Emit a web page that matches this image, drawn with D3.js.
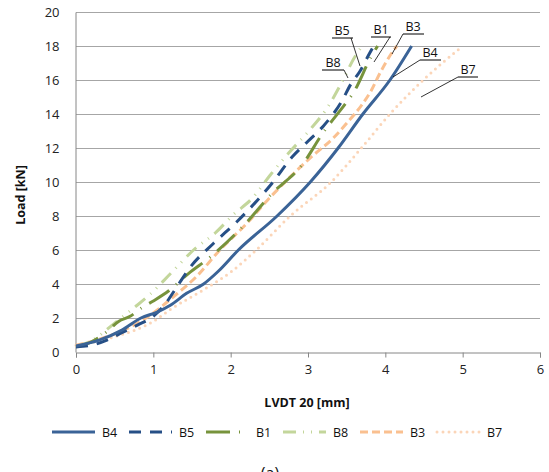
<!DOCTYPE html>
<html>
<head>
<meta charset="utf-8">
<script src="https://cdn.jsdelivr.net/npm/d3@7"></script>
<style>
  body { margin: 0; background: #fff; }
  svg { display: block; font-family: "Open Sans", "Liberation Sans", sans-serif; }
</style>
</head>
<body>
<svg id="chart" width="549" height="472"></svg>
<script>
// LVDT 20 displacement [mm] vs load [kN]
const seriesNames = ['B4', 'B5', 'B1', 'B8', 'B3', 'B7'];

const b4 = [[0,0.35],[0.3,0.7],[0.6,1.3],[0.84,2.0],[1.05,2.35],[1.22,2.75],[1.43,3.45],[1.65,4.0],[1.84,4.75],[2.1,6.0],[2.6,8.0],[3.03,10.0],[3.39,12.0],[3.71,14.0],[4.06,16.0],[4.34,18.0]];
const b5 = [[0,0.3],[0.2,0.4],[0.4,0.7],[0.6,1.15],[0.8,1.6],[1.0,2.1],[1.15,2.8],[1.3,3.8],[1.48,5.0],[1.78,6.4],[2.08,7.66],[2.38,9.1],[2.53,9.9],[2.8,11.5],[3.0,12.4],[3.2,13.3],[3.43,14.7],[3.56,15.8],[3.67,16.5],[3.8,17.6],[3.85,18.0]];
const b1 = [[0,0.3],[0.2,0.6],[0.4,1.2],[0.55,1.8],[0.7,2.1],[0.85,2.6],[1.0,3.0],[1.2,3.6],[1.45,4.6],[1.74,5.6],[2.14,7.3],[2.53,9.3],[2.94,11.1],[3.18,12.8],[3.5,14.7],[3.58,15.2],[3.82,17.4],[3.9,18.0]];
const b8 = [[0,0.3],[0.25,0.8],[0.5,1.7],[0.75,2.6],[0.96,3.4],[1.22,4.6],[1.52,6.0],[1.8,7.0],[2.04,8.1],[2.27,9.0],[2.51,10.4],[2.75,11.7],[3.03,13.1],[3.24,14.3],[3.43,15.8],[3.61,17.4],[3.7,18.0]];
const b3 = [[0,0.4],[0.3,0.75],[0.6,1.25],[0.8,1.7],[1.0,2.3],[1.26,3.25],[1.56,4.45],[1.86,6.0],[2.21,7.57],[2.47,8.9],[2.77,10.3],[3.05,11.5],[3.33,12.6],[3.5,13.45],[3.69,14.5],[3.82,15.4],[3.93,16.4],[4.1,17.7],[4.15,18.0]];
const b7 = [[0,0.4],[0.5,0.9],[1.0,1.8],[1.22,2.5],[1.7,3.8],[2.0,4.7],[2.33,6.0],[2.77,8.0],[3.3,10.0],[3.69,12.0],[4.06,14.0],[4.49,16.0],[5.0,18.0]];

const xTicks = [0, 1, 2, 3, 4, 5, 6];
const yTicks = [0, 2, 4, 6, 8, 10, 12, 14, 16, 18, 20];

const seriesData = [b4, b5, b1, b8, b3, b7];
const colors = ['#3A6397', '#264F86', '#77933C', '#C3D69B', '#FAC090', '#FBD5B8'];
const dashes = ['none', '12,9', '24,9,1,9', '13,7,1,7,1,7', '8,4', '0,6'];
const caps = ['butt', 'butt', 'butt', 'butt', 'butt', 'round'];

// label position, underline and leader end (px)
const labels = [
  {name:'B4', x:430, y:57, ux:[420,441], from:420, to:[393,77]},
  {name:'B5', x:342, y:35, ux:[332,353], from:351, to:[360,66]},
  {name:'B1', x:381, y:34, ux:[371,391], from:390, to:[374,62]},
  {name:'B8', x:333, y:67, ux:[322,344], from:344, to:[348,78]},
  {name:'B3', x:413, y:31, ux:[403,424], from:403, to:[392,54]},
  {name:'B7', x:468, y:74, ux:[458,478], from:458, to:[421,97]},
];

const svg = d3.select('#chart');
const margin = {left: 76, right: 540, top: 12, bottom: 352};

const x = d3.scaleLinear().domain([0, 6]).range([margin.left, margin.right]);
const y = d3.scaleLinear().domain([0, 20]).range([margin.bottom, margin.top]);

// gridlines
svg.append('g').selectAll('line').data(yTicks.filter(d => d > 0)).enter().append('line')
  .attr('x1', margin.left).attr('x2', margin.right)
  .attr('y1', d => y(d) + 0.5).attr('y2', d => y(d) + 0.5)
  .attr('stroke', '#A6A6A6').attr('stroke-width', 1);

// axes
const xAxis = svg.append('g').attr('transform', `translate(0,${margin.bottom + 0.5})`)
  .call(d3.axisBottom(x).tickValues(xTicks).tickFormat(d3.format('d')).tickSize(5).tickPadding(7));
const yAxis = svg.append('g').attr('transform', `translate(${margin.left - 0.5},0)`)
  .call(d3.axisLeft(y).tickValues(yTicks).tickFormat(d3.format('d')).tickSizeInner(0).tickSizeOuter(0).tickPadding(16));
[xAxis, yAxis].forEach(a => {
  a.select('.domain').attr('stroke', '#868686');
  a.selectAll('.tick line').attr('stroke', '#868686');
  a.selectAll('.tick text').attr('font-size', 13).attr('fill', '#222')
    .attr('font-family', '"Open Sans", sans-serif');
});

// axis titles
svg.append('text').attr('x', 307).attr('y', 407).attr('text-anchor', 'middle')
  .attr('font-size', 12.5).attr('font-weight', 'bold').attr('fill', '#111')
  .text('LVDT 20 [mm]');
svg.append('text').attr('transform', 'translate(25,195) rotate(-90)').attr('text-anchor', 'middle')
  .attr('font-size', 12.5).attr('font-weight', 'bold').attr('fill', '#111')
  .text('Load [kN]');

// series lines
const line = d3.line().x(d => x(d[0])).y(d => y(d[1])).curve(d3.curveMonotoneX);
const order = [5, 4, 3, 2, 1, 0];
svg.append('g').selectAll('path').data(order).enter().append('path')
  .attr('d', i => line(seriesData[i]))
  .attr('fill', 'none')
  .attr('stroke', i => colors[i])
  .attr('stroke-width', 3)
  .attr('stroke-dasharray', i => dashes[i])
  .attr('stroke-linecap', i => caps[i]);

// data labels with leaders
const lab = svg.append('g');
labels.forEach(l => {
  lab.append('line').attr('x1', l.ux[0]).attr('x2', l.ux[1]).attr('y1', l.y + 3).attr('y2', l.y + 3)
    .attr('stroke', '#000').attr('stroke-width', 1);
  lab.append('line').attr('x1', l.from).attr('y1', l.y + 3).attr('x2', l.to[0]).attr('y2', l.to[1])
    .attr('stroke', '#000').attr('stroke-width', 0.8);
  lab.append('text').attr('x', l.x).attr('y', l.y).attr('text-anchor', 'middle')
    .attr('font-size', 12.5).attr('fill', '#111').text(l.name);
});

// legend
const leg = svg.append('g').attr('transform', 'translate(52,432)');
seriesNames.forEach((n, i) => {
  const g = leg.append('g').attr('transform', `translate(${i * 77},0)`);
  g.append('line').attr('x1', 0).attr('x2', 43).attr('y1', 0).attr('y2', 0)
    .attr('stroke', colors[i]).attr('stroke-width', 3)
    .attr('stroke-dasharray', dashes[i]).attr('stroke-linecap', caps[i]);
  g.append('text').attr('x', 50).attr('y', 4.5).attr('font-size', 12.5).attr('fill', '#111').text(n);
});

// caption, cut by the bottom edge as in the source figure
svg.append('text').attr('x', 270).attr('y', 479).attr('text-anchor', 'middle')
  .attr('font-size', 16).attr('fill', '#111').text('(a)');
</script>
</body>
</html>
